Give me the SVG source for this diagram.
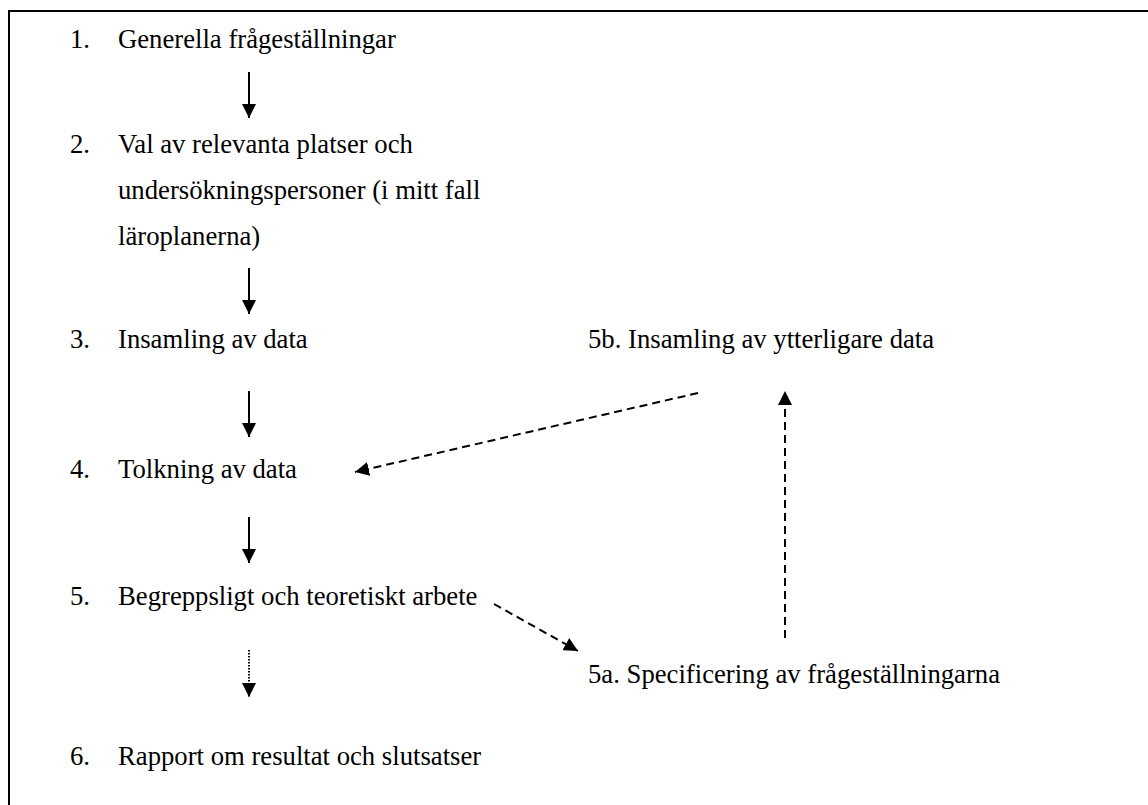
<svg xmlns="http://www.w3.org/2000/svg" width="1148" height="805" viewBox="0 0 1148 805">
<style>
.t text{font-size:26.7px;fill:#000}
.s{stroke:#000;stroke-width:2;fill:none}
.d{stroke:#000;stroke-width:2;fill:none;stroke-dasharray:8 5}
.o{stroke:#000;stroke-width:2;fill:none;stroke-dasharray:1.5 1.5}
</style>
<defs>
<marker id="ah" viewBox="0 0 10 10" refX="10" refY="5" markerWidth="7" markerHeight="7" markerUnits="strokeWidth" orient="auto">
<path d="M0,0 L10,5 L0,10 Z" fill="#000"/>
</marker>
</defs>
<rect x="9" y="11" width="1160" height="820" fill="none" stroke="#000" stroke-width="2"/>
<g class="t" font-family="Liberation Serif, Tinos, DejaVu Serif, serif">
<g id="n1"><text x="70" y="48">1.</text><text x="118" y="48">Generella frågeställningar</text></g>
<g id="n2"><text x="70" y="153">2.</text><text x="118" y="153">Val av relevanta platser och</text><text x="118" y="199">undersökningspersoner (i mitt fall</text><text x="118" y="245">läroplanerna)</text></g>
<g id="n3"><text x="70" y="348">3.</text><text x="118" y="348">Insamling av data</text></g>
<g id="n4"><text x="70" y="478">4.</text><text x="118" y="478">Tolkning av data</text></g>
<g id="n5"><text x="70" y="605">5.</text><text x="118" y="605">Begreppsligt och teoretiskt arbete</text></g>
<g id="n6"><text x="70" y="765">6.</text><text x="118" y="765">Rapport om resultat och slutsatser</text></g>
<g id="n5b"><text x="588" y="348">5b. Insamling av ytterligare data</text></g>
<g id="n5a"><text x="588" y="683">5a. Specificering av frågeställningarna</text></g>
</g>
<g id="connectors">
<line class="s" x1="249" y1="72" x2="249" y2="118" marker-end="url(#ah)"/>
<line class="s" x1="249" y1="268" x2="249" y2="314" marker-end="url(#ah)"/>
<line class="s" x1="249" y1="391" x2="249" y2="437" marker-end="url(#ah)"/>
<line class="s" x1="249" y1="517" x2="249" y2="563" marker-end="url(#ah)"/>
<line class="o" x1="249" y1="650" x2="249" y2="697" marker-end="url(#ah)"/>
<line class="d" x1="698" y1="393" x2="355" y2="472" marker-end="url(#ah)"/>
<line class="d" x1="494" y1="604" x2="578" y2="651" marker-end="url(#ah)"/>
<line class="d" x1="785" y1="638" x2="785" y2="391" marker-end="url(#ah)"/>
</g>
</svg>
